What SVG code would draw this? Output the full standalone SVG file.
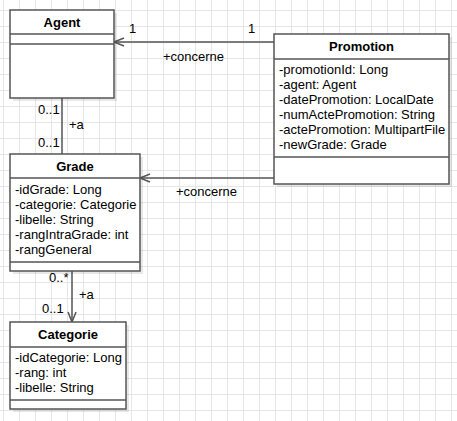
<svg xmlns="http://www.w3.org/2000/svg" width="457" height="421" viewBox="0 0 457 421">
<style>
.box{fill:#fff;stroke:#555;stroke-width:1.5}
.shadow{fill:#000;opacity:0.09}
.div{stroke:#555;stroke-width:1.5}
.edge{stroke:#555;stroke-width:1.5;fill:none}
.t{font-family:"Liberation Sans",Arial,sans-serif;font-size:13px;fill:#000}
.title{font-family:"Liberation Sans",Arial,sans-serif;font-size:13px;font-weight:bold;fill:#000;text-anchor:middle}
</style>
<defs>
<pattern id="grid" x="3" y="10" width="16" height="16" patternUnits="userSpaceOnUse">
<path d="M0.5 0V16M0 0.5H16" stroke="#e6e6e6" stroke-width="1" fill="none"/>
</pattern>
</defs>
<rect width="457" height="421" fill="#fff"/>
<rect width="457" height="421" fill="url(#grid)"/>

<g id="connectors">
<path class="edge" d="M274 42H114"/>
<path class="edge" d="M124 38L114 42L124 46"/>
<text class="t" x="129" y="33">1</text>
<text class="t" x="248" y="33">1</text>
<text class="t" x="163" y="61">+concerne</text>
<path class="edge" d="M274 178H140"/>
<path class="edge" d="M150 174L140 178L150 182"/>
<text class="t" x="176" y="196">+concerne</text>
<path class="edge" d="M62 98V154"/>
<text class="t" x="38" y="114">0..1</text>
<text class="t" x="69" y="129">+a</text>
<text class="t" x="38" y="147">0..1</text>
<path class="edge" d="M72 271V322"/>
<path class="edge" d="M68 312L72 322L76 312"/>
<text class="t" x="49" y="282">0..*</text>
<text class="t" x="79" y="299">+a</text>
<text class="t" x="42" y="313">0..1</text>
</g>

<g id="agent">
<rect class="shadow" x="13" y="13" width="104" height="88"/>
<rect class="box" x="10" y="10" width="104" height="88"/>
<line class="div" x1="10" y1="34" x2="114" y2="34"/>
<line class="div" x1="10" y1="44" x2="114" y2="44"/>
<text class="title" x="62" y="27">Agent</text>
</g>

<g id="promotion">
<rect class="shadow" x="277" y="37" width="175" height="150"/>
<rect class="box" x="274" y="34" width="175" height="150"/>
<line class="div" x1="274" y1="59" x2="449" y2="59"/>
<line class="div" x1="274" y1="157" x2="449" y2="157"/>
<text class="title" x="361.5" y="51">Promotion</text>
<text class="t" x="279" y="74">-promotionId: Long</text>
<text class="t" x="279" y="89">-agent: Agent</text>
<text class="t" x="279" y="104">-datePromotion: LocalDate</text>
<text class="t" x="279" y="119">-numActePromotion: String</text>
<text class="t" x="279" y="134">-actePromotion: MultipartFile</text>
<text class="t" x="279" y="149">-newGrade: Grade</text>
</g>

<g id="grade">
<rect class="shadow" x="13" y="157" width="130" height="117"/>
<rect class="box" x="10" y="154" width="130" height="117"/>
<line class="div" x1="10" y1="178" x2="140" y2="178"/>
<line class="div" x1="10" y1="262" x2="140" y2="262"/>
<text class="title" x="75" y="171">Grade</text>
<text class="t" x="15" y="194">-idGrade: Long</text>
<text class="t" x="15" y="209">-categorie: Categorie</text>
<text class="t" x="15" y="224">-libelle: String</text>
<text class="t" x="15" y="239">-rangIntraGrade: int</text>
<text class="t" x="15" y="254">-rangGeneral</text>
</g>

<g id="categorie">
<rect class="shadow" x="13" y="325" width="116" height="87"/>
<rect class="box" x="10" y="322" width="116" height="87"/>
<line class="div" x1="10" y1="347" x2="126" y2="347"/>
<line class="div" x1="10" y1="400" x2="126" y2="400"/>
<text class="title" x="68" y="339">Categorie</text>
<text class="t" x="15" y="362">-idCategorie: Long</text>
<text class="t" x="15" y="377">-rang: int</text>
<text class="t" x="15" y="392">-libelle: String</text>
</g>
</svg>
